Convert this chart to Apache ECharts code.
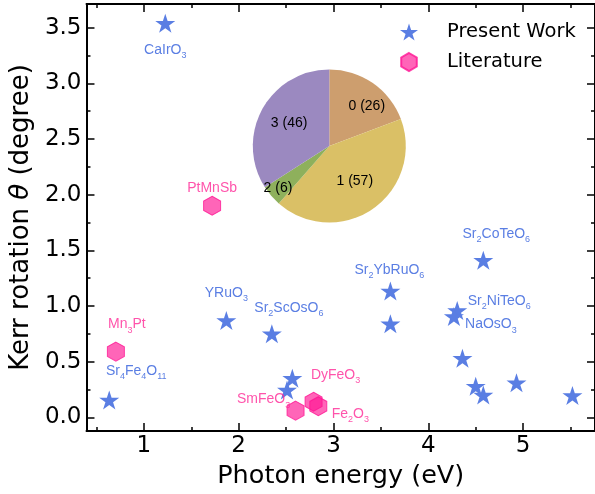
<!DOCTYPE html>
<html>
<head>
<meta charset="utf-8">
<script src="https://cdn.jsdelivr.net/npm/echarts@6/dist/echarts.min.js"></script>
<style>html,body{margin:0;padding:0;background:#fff}#c{width:595px;height:494px}</style>
</head>
<body>
<div id="c"></div>
<script>
// ---- data ----
const presentNames = ['CaIrO3','Sr4Fe4O11','YRuO3','Sr2ScOsO6','','','Sr2YbRuO6','','Sr2NiTeO6','NaOsO3','','','','','','Sr2CoTeO6'];
const presentX = [1.226,0.635,1.87,2.35,2.51,2.566,3.60,3.60,4.305,4.27,4.36,4.50,4.58,4.93,5.52,4.58];
const presentY = [3.54,0.155,0.87,0.75,0.245,0.35,1.134,0.84,0.96,0.905,0.53,0.28,0.20,0.31,0.195,1.41];

const litNames = ['PtMnSb','Mn3Pt','SmFeO3','DyFeO3','Fe2O3'];
const litX = [1.72,0.705,2.60,2.79,2.84];
const litY = [1.90,0.59,0.06,0.14,0.10];

const pieCategories = ['0','1','2','3'];
const pieValues = [26,57,6,46];

const xTicks = [1,2,3,4,5];
const xMinorTicks = [0.5,1.5,2.5,3.5,4.5,5.5];
const yTicks = [0,0.5,1,1.5,2,2.5,3,3.5];
const yMinorTicks = [0.25,0.75,1.25,1.75,2.25,2.75,3.25];

// ---- layout / style ----
const labelOffsets = {
  'CaIrO3':[0,28],'Sr4Fe4O11':[27,-28],'YRuO3':[0,-26],'Sr2ScOsO6':[17,-25],
  'Sr2YbRuO6':[-1,-20],'Sr2NiTeO6':[42,-8],'NaOsO3':[37,9],'Sr2CoTeO6':[13,-25],
  'PtMnSb':[0,-17],'Mn3Pt':[11,-26],'SmFeO3':[-32,-10],'DyFeO3':[22,-26],'Fe2O3':[32,9]
};
const pieColors = ['#cd9e6e','#dac066','#8eb05c','#9b89c0'];
const pieLabelOffsets = [[14,-6],[2,1],[-20,15],[-4,-3]];

const starPath = 'path://M100,0L122.45,69.1L195.1,69.1L136.3,111.8L158.8,180.9L100,138.2L41.2,180.9L63.7,111.8L4.9,69.1L77.55,69.1Z';
const hexPath = 'path://M100,0L186.6,50L186.6,150L100,200L13.4,150L13.4,50Z';
const blue = '#5a7ee3';
const pink = '#ff2896';
const labelFont = 'Liberation Sans, Arial, sans-serif';
const mainFont = 'DejaVu Sans, sans-serif';

function toRich(name){
  const parts = name.match(/\d+|\D+/g) || [];
  return parts.map(p => /\d/.test(p) ? '{s|' + p + '}' : '{n|' + p + '}').join('');
}
function richFor(color){
  return {
    n:{fontSize:14, fontFamily:labelFont, color:color, lineHeight:16, verticalAlign:'top'},
    s:{fontSize:9, fontFamily:labelFont, color:color, lineHeight:10, padding:[8,0,0,0], verticalAlign:'top'}
  };
}
function buildPoints(names, xs, ys){
  return xs.map((x,i) => {
    const item = {name:names[i], value:[x, ys[i]]};
    if (names[i]) item.label = {show:true, offset:labelOffsets[names[i]]};
    return item;
  });
}

const xMin = 0.395, xMax = 5.758, yMin = -0.123, yMax = 3.712;
const tickLine = {color:'#000', width:1.5};

function xAxisDef(pos, ticks, len, withLine, withLabel){
  return {
    type:'value', position:pos, min:xMin, max:xMax,
    axisLine:{show:withLine, onZero:false, lineStyle:{color:'#000', width:2}},
    axisTick:{show:true, inside:true, length:len, lineStyle:tickLine, customValues:ticks},
    axisLabel:withLabel ? {show:true, customValues:ticks, fontSize:23, fontFamily:mainFont, color:'#000', margin:4, formatter:v=>String(Math.round(v))} : {show:false},
    splitLine:{show:false}
  };
}
function yAxisDef(pos, ticks, len, withLine, withLabel){
  return {
    type:'value', position:pos, min:yMin, max:yMax,
    axisLine:{show:withLine, onZero:false, lineStyle:{color:'#000', width:2}},
    axisTick:{show:true, inside:true, length:len, lineStyle:tickLine, customValues:ticks},
    axisLabel:withLabel ? {show:true, customValues:ticks, fontSize:23, fontFamily:mainFont, color:'#000', margin:5, formatter:v=>v.toFixed(1)} : {show:false},
    splitLine:{show:false}
  };
}

const xMain = xAxisDef('bottom', xTicks, 8, true, true);
xMain.name = 'Photon energy (eV)';
xMain.nameLocation = 'middle';
xMain.nameGap = 32;
xMain.nameTextStyle = {fontSize:25.5, fontFamily:mainFont, color:'#000'};

const yMain = yAxisDef('left', yTicks, 8, true, true);
yMain.name = '{t|Kerr rotation }{i|θ}{t| (degree)}';
yMain.nameLocation = 'middle';
yMain.nameGap = 45;
yMain.nameTextStyle = {fontSize:26, fontFamily:mainFont, color:'#000',
  rich:{
    t:{fontSize:26, fontFamily:mainFont, color:'#000'},
    i:{fontSize:26, fontFamily:mainFont, fontStyle:'italic', color:'#000'}
  }};

const chart = echarts.init(document.getElementById('c'), null, {renderer:'canvas'});
chart.setOption({
  animation:false,
  backgroundColor:'#fff',
  grid:{left:82, right:-1, top:4, bottom:62, containLabel:false},
  xAxis:[
    xMain,
    xAxisDef('bottom', xMinorTicks, 4, false, false),
    xAxisDef('top', xTicks, 8, true, false),
    xAxisDef('top', xMinorTicks, 4, false, false)
  ],
  yAxis:[
    yMain,
    yAxisDef('left', yMinorTicks, 4, false, false),
    yAxisDef('right', yTicks, 8, true, false),
    yAxisDef('right', yMinorTicks, 4, false, false)
  ],
  legend:{
    orient:'vertical', left:395, top:17, itemWidth:18, itemHeight:18, itemGap:10,
    data:[{name:'Present Work', icon:starPath},{name:'Literature', icon:hexPath}],
    textStyle:{fontSize:19.5, fontFamily:mainFont, color:'#000', padding:[0,0,0,24]}
  },
  series:[
    {
      name:'Present Work', type:'scatter', xAxisIndex:0, yAxisIndex:0,
      symbol:starPath, symbolSize:[20,19],
      itemStyle:{color:blue, opacity:1},
      label:{show:false, position:'inside', formatter:p=>toRich(p.name), rich:richFor(blue)},
      emphasis:{disabled:true},
      data:buildPoints(presentNames, presentX, presentY), z:3
    },
    {
      name:'Literature', type:'scatter', xAxisIndex:0, yAxisIndex:0,
      symbol:hexPath, symbolSize:[17,19],
      itemStyle:{color:'rgba(255,20,147,0.82)', borderColor:'#ff1493', borderWidth:1},
      label:{show:false, position:'inside', formatter:p=>toRich(p.name), rich:richFor(pink)},
      emphasis:{disabled:true},
      data:buildPoints(litNames, litX, litY), z:4
    },
    {
      name:'pie', type:'pie', center:[329.3,146], radius:76.5, startAngle:90, clockwise:true,
      emphasis:{disabled:true}, labelLine:{show:false},
      label:{show:true, position:'inside', fontSize:14, fontFamily:labelFont, color:'#000', formatter:'{b} ({c})'},
      itemStyle:{borderWidth:0},
      data:pieCategories.map((c,i)=>({name:c, value:pieValues[i], itemStyle:{color:pieColors[i]}, label:{offset:pieLabelOffsets[i]}})),
      z:2
    }
  ]
});
</script>
</body>
</html>
